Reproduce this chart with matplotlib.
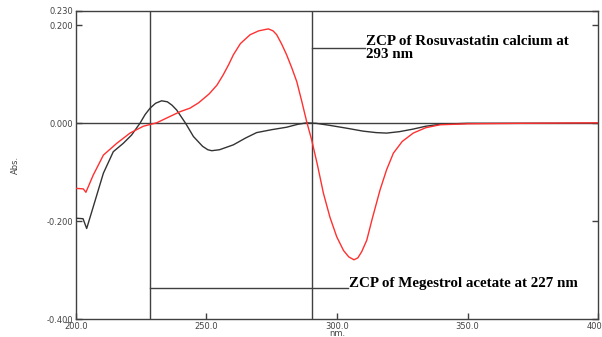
import matplotlib
matplotlib.use("Agg")
import matplotlib.pyplot as plt

# Rosuvastatin calcium (red)
red_nm = [200, 202.8, 203.8, 206.6, 210.5, 215.6, 220.7, 225.8, 230.9, 236, 240,
          243.7, 247, 251, 254, 256.4, 258.5, 260.3, 263, 266.7, 270, 273.7, 275.5,
          276.9, 278.8, 280.7, 282.7, 284.6, 286.5, 288.4, 290.3, 292.5, 294.8,
          297.3, 299.9, 302.5, 304.5, 306.5, 308, 309.5, 311.4, 313.5, 316.5, 319,
          321.6, 325, 329.2, 334, 339.5, 350, 370, 400]
red_abs = [-0.133, -0.134, -0.141, -0.106, -0.065, -0.041, -0.020, -0.006, 0.001, 0.014, 0.024,
           0.031, 0.042, 0.060, 0.078, 0.099, 0.120, 0.140, 0.163, 0.181, 0.189, 0.193, 0.189,
           0.181, 0.162, 0.140, 0.113, 0.085, 0.045, 0.003, -0.034, -0.085, -0.143,
           -0.192, -0.232, -0.260, -0.273, -0.279, -0.275, -0.262, -0.239, -0.195, -0.136, -0.095,
           -0.061, -0.037, -0.020, -0.009, -0.003, -0.001, 0.000, 0.001]

# Megestrol acetate (black)
blk_nm = [200, 202.7, 204.1, 206.6, 210.5, 214.3, 218.1, 221.3, 224.5, 226.5, 228.4, 230.5,
          232.8, 235, 236.8, 238.6, 242, 245, 248.5, 250.5, 252, 255, 260.3, 265, 269.2, 275,
          280.7, 285, 288.4, 292, 297, 303.7, 310, 315, 319, 324, 329, 334, 339.5, 350, 400]
blk_abs = [-0.194, -0.195, -0.215, -0.171, -0.102, -0.058, -0.041, -0.024, 0.000, 0.018, 0.031, 0.041,
           0.046, 0.044, 0.037, 0.027, 0.000, -0.027, -0.047, -0.054, -0.056, -0.054, -0.044, -0.030,
           -0.019, -0.013, -0.008, -0.002, 0.001, 0.000, -0.004, -0.010, -0.016, -0.019, -0.020,
           -0.017, -0.012, -0.006, -0.002, 0.000, 0.000]

x_ticks = [200, 250, 300, 350, 400]
y_ticks = [0.230, 0.200, 0.000, -0.200, -0.400]
zcp_lines = [228.4, 290.5]
ann1_text = "ZCP of Rosuvastatin calcium at\n293 nm"
ann2_text = "ZCP of Megestrol acetate at 227 nm"

fig = plt.figure(figsize=(6.02, 3.37), dpi=100)
ax = fig.add_axes([0.1262, 0.0534, 0.8672, 0.9146])

ax.set_xlim(200, 400)
ax.set_ylim(-0.400, 0.230)

frame_col = "#404040"
ax.axhline(0, color=frame_col, lw=1.0, zorder=1)
for v in zcp_lines:
    ax.axvline(v, color=frame_col, lw=1.0, zorder=1)

ax.plot(blk_nm, blk_abs, color="#333333", lw=1.0, zorder=3)
ax.plot(red_nm, red_abs, color="#ff3030", lw=1.0, zorder=4)

# annotation leaders
ax.plot([zcp_lines[1], 310.7], [0.153, 0.153], color=frame_col, lw=1.0)
ax.plot([zcp_lines[0], 304.2], [-0.336, -0.336], color=frame_col, lw=1.0)
ax.text(311.3, 0.153, ann1_text, family="Liberation Serif", fontweight="bold",
        fontsize=10.8, va="center", ha="left", linespacing=1.0)
ax.text(304.6, -0.328, ann2_text, family="Liberation Serif", fontweight="bold",
        fontsize=10.8, va="center", ha="left")

ax.set_xticks(x_ticks)
ax.set_xticklabels([f"{v:.1f}" for v in x_ticks])
ax.set_yticks(y_ticks)
ax.set_yticklabels([f"{v:.3f}" for v in y_ticks])
ax.tick_params(direction="in", length=4, width=1, colors=frame_col,
               labelsize=6, labelcolor="#444444", right=True, pad=2)
for s in ax.spines.values():
    s.set_color(frame_col)
    s.set_linewidth(1.0)

ax.set_xlabel("nm.", fontsize=6, color="#444444", labelpad=-1)
ax.set_ylabel("Abs.", fontsize=6, color="#444444", labelpad=19)

fig.savefig("out.png", dpi=100)
